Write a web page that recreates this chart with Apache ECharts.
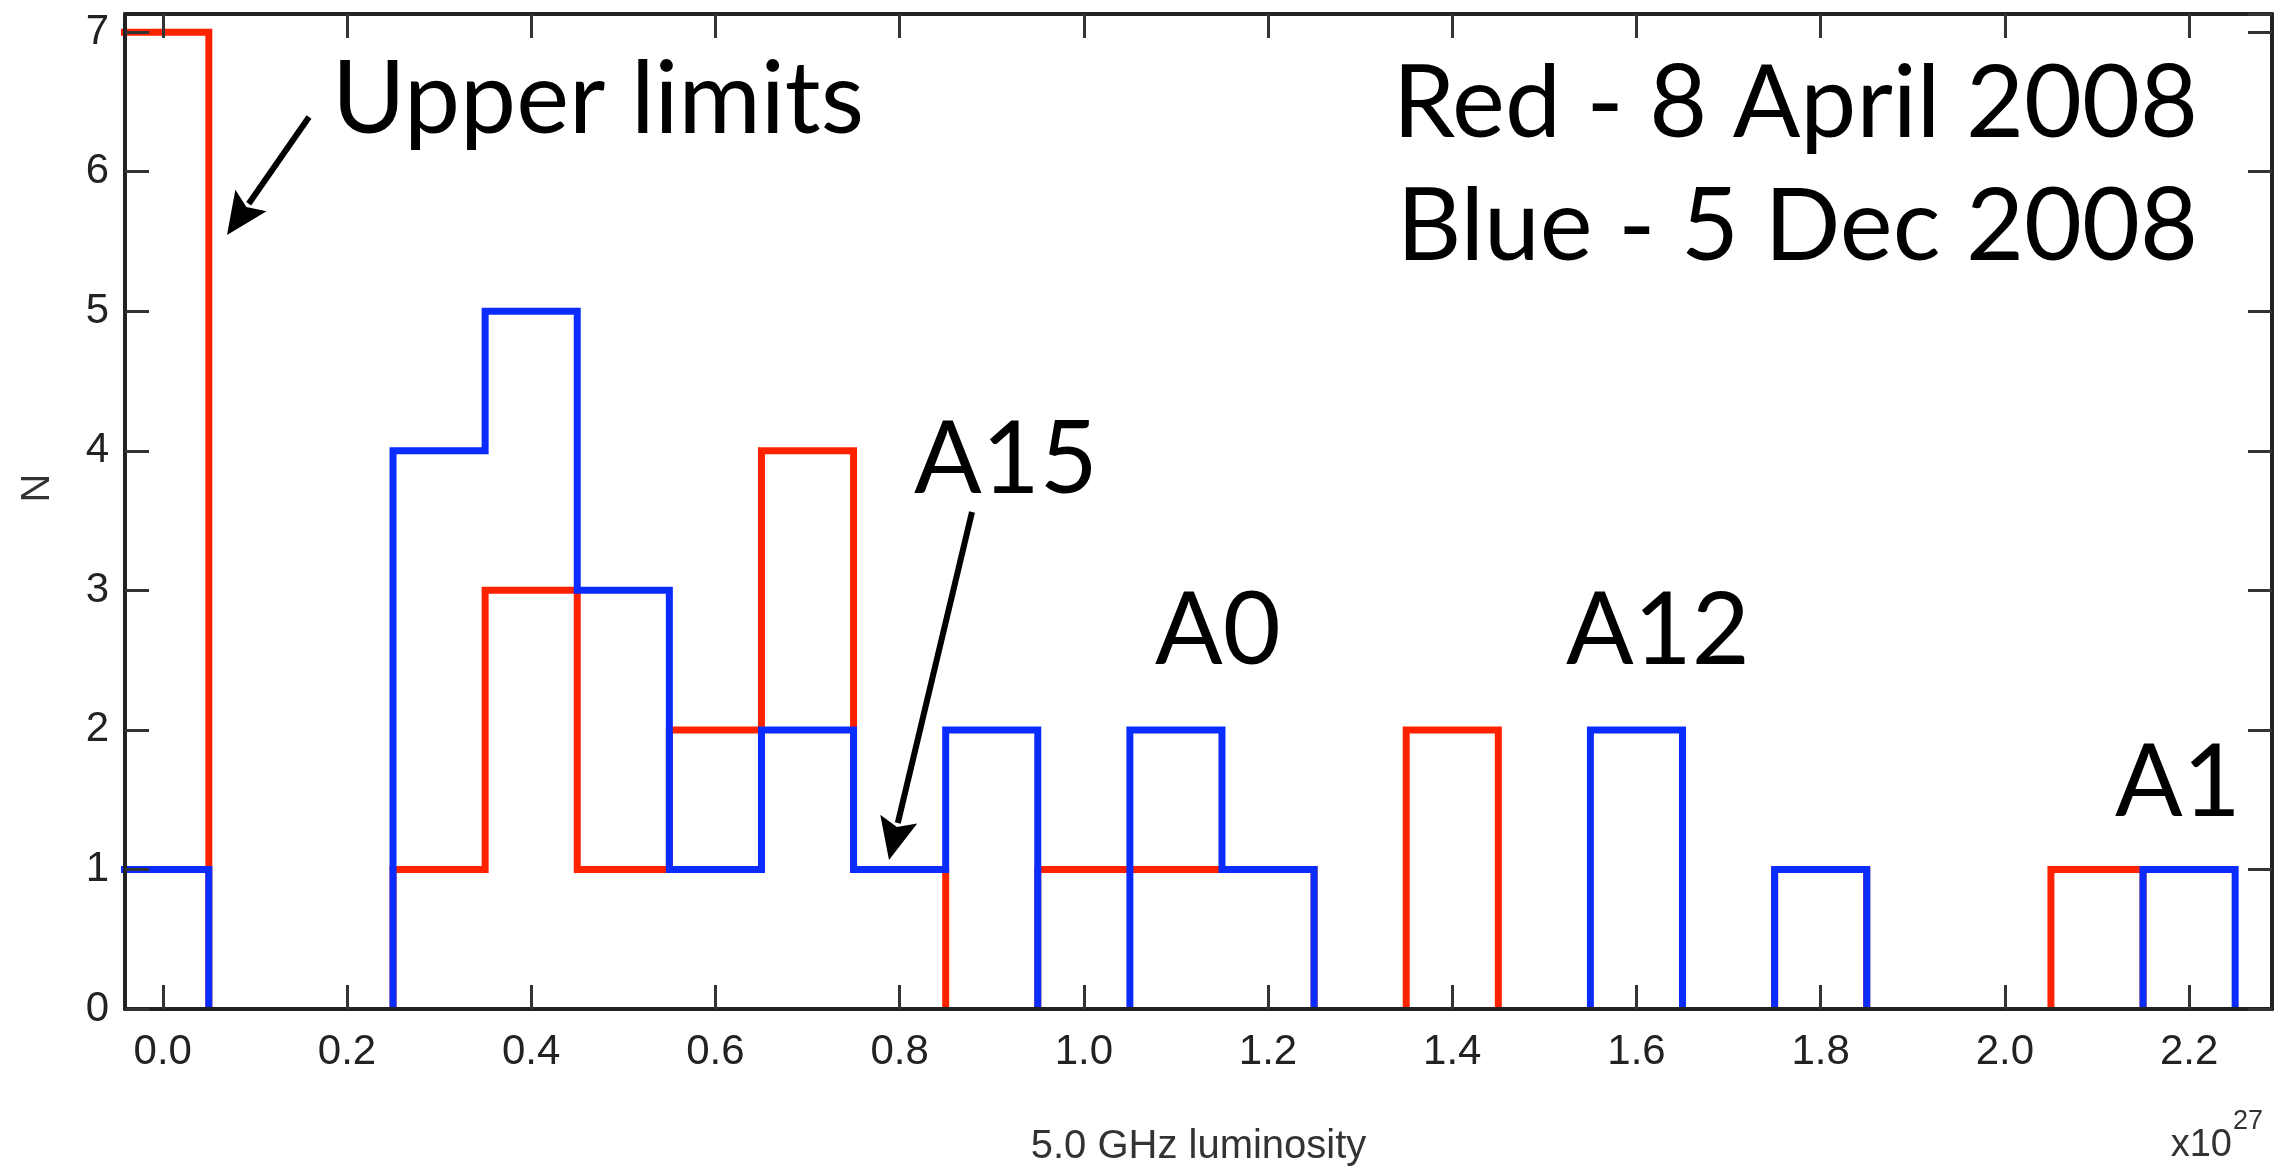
<!DOCTYPE html>
<html>
<head>
<meta charset="utf-8">
<script src="https://cdn.jsdelivr.net/npm/echarts@6.0.0/dist/echarts.min.js"></script>
<style>
  html, body { margin: 0; padding: 0; background: #fff; }
  #main { width: 2285px; height: 1172px; }
</style>
</head>
<body>
<div id="main"></div>
<script>
// bin centres in units of 1e27, bin width 0.1
var binCenters = [0.0, 0.1, 0.2, 0.3, 0.4, 0.5, 0.6, 0.7, 0.8, 0.9, 1.0, 1.1,
                  1.2, 1.3, 1.4, 1.5, 1.6, 1.7, 1.8, 1.9, 2.0, 2.1, 2.2];
var binWidth = 0.1;
// Red - 8 April 2008
var redCounts  = [7, 0, 0, 1, 3, 1, 2, 4, 1, 0, 1, 1, 1, 0, 2, 0, 0, 0, 1, 0, 0, 1, 0];
// Blue - 5 Dec 2008
var blueCounts = [1, 0, 0, 4, 5, 3, 1, 2, 1, 2, 0, 2, 1, 0, 0, 0, 2, 0, 1, 0, 0, 0, 1];
var xTicks = [0.0, 0.2, 0.4, 0.6, 0.8, 1.0, 1.2, 1.4, 1.6, 1.8, 2.0, 2.2];

// histogram outline, broken where the count is zero (so nothing is drawn on the axis)
function outline(counts) {
  var pts = [];
  var n = counts.length;
  for (var i = 0; i < n; i++) {
    var v = counts[i];
    var prev = i > 0 ? counts[i - 1] : 0;
    var l = +(binCenters[i] - binWidth / 2).toFixed(3);
    var r = +(binCenters[i] + binWidth / 2).toFixed(3);
    if (v > 0) {
      if (prev === 0) pts.push([l, 0]);
      pts.push([l, v], [r, v]);
    } else if (prev > 0) {
      pts.push([l, 0], [l, null]);
    }
  }
  if (counts[n - 1] > 0) {
    pts.push([+(binCenters[n - 1] + binWidth / 2).toFixed(3), 0]);
  }
  return pts;
}

var chart = echarts.init(document.getElementById('main'));

var axisFont = 'Liberation Sans';
var noteFont = '100px Lato';

function arrow(x1, y1, x2, y2) {
  // line from (x1,y1) to the tip (x2,y2) with a filled head
  var dx = x2 - x1, dy = y2 - y1;
  var len = Math.sqrt(dx * dx + dy * dy);
  var ux = dx / len, uy = dy / len;
  var hl = 42, hw = 19;
  var bx = x2 - ux * hl, by = y2 - uy * hl;
  return [{
    type: 'line',
    shape: { x1: x1, y1: y1, x2: bx + ux * 4, y2: by + uy * 4 },
    style: { stroke: '#000', lineWidth: 6 }
  }, {
    type: 'polygon',
    shape: { points: [[x2, y2], [bx - uy * hw, by + ux * hw], [bx + ux * 8, by + uy * 8], [bx + uy * hw, by - ux * hw]] },
    style: { fill: '#000' }
  }];
}

function note(text, x, y, align) {
  return {
    type: 'text', x: x, y: y, z: 100,
    style: { text: text, font: noteFont, fill: '#000', align: align || 'left', verticalAlign: 'middle' }
  };
}

var graphics = [
  note('Upper limits', 332, 101),
  note('Red - 8 April 2008', 2198, 105, 'right'),
  note('Blue - 5 Dec 2008', 2198, 228, 'right'),
  note('A15', 914, 461),
  note('A0', 1155, 632),
  note('A12', 1566, 632),
  note('A1', 2115, 784),
  {
    type: 'text', x: 38, y: 488, rotation: Math.PI / 2,
    style: { text: 'N', font: '40px ' + axisFont, fill: '#333', align: 'center', verticalAlign: 'middle' }
  },
  {
    type: 'text', x: 2232, y: 1146,
    style: { text: 'x10', font: '38px ' + axisFont, fill: '#333', align: 'right', verticalAlign: 'middle' }
  },
  {
    type: 'text', x: 2233, y: 1122,
    style: { text: '27', font: '27px ' + axisFont, fill: '#333', align: 'left', verticalAlign: 'middle' }
  }
].concat(arrow(309, 117, 227, 235)).concat(arrow(972, 512, 889, 860));

var axisLine = { show: true, onZero: false, lineStyle: { color: '#222', width: 4 } };
var axisTick = { show: true, inside: true, length: 24, lineStyle: { color: '#333', width: 3 } };

var option = {
  animation: false,
  backgroundColor: '#fff',
  grid: { left: 125, right: 13, top: 14, bottom: 150, containLabel: false },
  xAxis: [{
    type: 'value',
    position: 'bottom',
    min: -0.041,
    max: 2.29,
    z: 10,
    axisLine: axisLine,
    axisTick: Object.assign({ customValues: xTicks }, axisTick),
    axisLabel: {
      customValues: xTicks,
      formatter: function (v) { return v.toFixed(1); },
      fontFamily: axisFont, fontSize: 42, color: '#222', margin: 22
    },
    splitLine: { show: false },
    name: '5.0 GHz luminosity',
    nameLocation: 'middle',
    nameGap: 118,
    nameTextStyle: { fontFamily: axisFont, fontSize: 40, color: '#333' }
  }, {
    type: 'value',
    position: 'top',
    min: -0.041,
    max: 2.29,
    z: 10,
    axisLine: axisLine,
    axisTick: Object.assign({ customValues: xTicks }, axisTick),
    axisLabel: { show: false },
    splitLine: { show: false }
  }],
  yAxis: [{
    type: 'value',
    position: 'left',
    min: 0,
    max: 7.13,
    interval: 1,
    z: 10,
    axisLine: axisLine,
    axisTick: axisTick,
    axisLabel: { fontFamily: axisFont, fontSize: 42, color: '#222', margin: 16 },
    splitLine: { show: false }
  }, {
    type: 'value',
    position: 'right',
    min: 0,
    max: 7.13,
    interval: 1,
    z: 10,
    axisLine: axisLine,
    axisTick: axisTick,
    axisLabel: { show: false },
    splitLine: { show: false }
  }],
  series: [{
    name: 'Red - 8 April 2008',
    type: 'line',
    data: outline(redCounts),
    showSymbol: false,
    connectNulls: false,
    lineStyle: { color: '#ff2200', width: 7, join: 'miter', cap: 'butt' },
    z: 3
  }, {
    name: 'Blue - 5 Dec 2008',
    type: 'line',
    data: outline(blueCounts),
    showSymbol: false,
    connectNulls: false,
    lineStyle: { color: '#0a2cff', width: 7, join: 'miter', cap: 'butt' },
    z: 4
  }],
  graphic: graphics
};

chart.setOption(option);
</script>
</body>
</html>
